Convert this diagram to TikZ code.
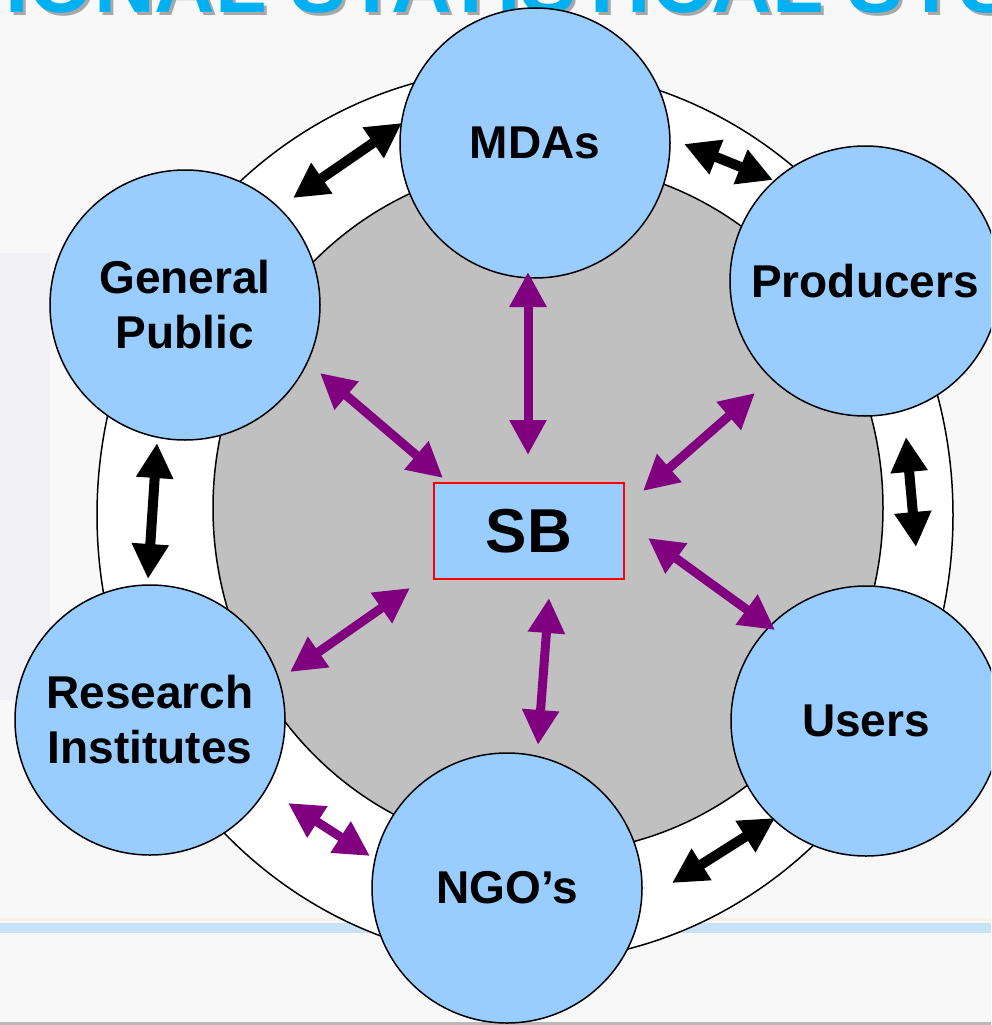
\documentclass[tikz,border=0pt]{standalone}
\usepackage{fontspec}
\setmainfont{Liberation Sans}
\usetikzlibrary{arrows.meta}
\definecolor{bg}{HTML}{F8F8F8}
\definecolor{nodeblue}{HTML}{99CCFF}
\definecolor{ringgray}{HTML}{C0C0C0}
\definecolor{titleblue}{HTML}{00B0F0}
\definecolor{titleshade}{HTML}{A8A8A8}
\definecolor{arrpurple}{HTML}{800080}
\definecolor{bandblue}{HTML}{C8E2F8}
\definecolor{bandpeach}{HTML}{FBF0E8}
\definecolor{wmark}{HTML}{F0F0F5}
\begin{document}
\begin{tikzpicture}[x=1pt,y=-1pt,
  actor/.style={circle, draw=black, line width=1.5pt, fill=nodeblue, minimum size=270pt,
    inner sep=0pt, align=center, font=\bfseries\fontsize{46}{55}\selectfont},
  dblarrow/.style={line width=10pt, {Triangle[length=35pt,width=35pt]}-{Triangle[length=35pt,width=35pt]}},
  blkarrow/.style={dblarrow, draw=black},
  prparrow/.style={dblarrow, line width=9pt, draw=arrpurple},
  ring/.style={draw=black, line width=1.5pt},
  titlefont/.style={font=\bfseries\fontsize{84}{90}\selectfont, inner sep=0pt, anchor=base west}
]
\useasboundingbox (0,0) rectangle (991,1025);
\clip (0,0) rectangle (991,1025);
% background
\fill[bg] (0,0) rectangle (991,1025);
\fill[wmark] (0,253) rectangle (50,700);
\fill[bandpeach] (0,918) rectangle (991,921);
\fill[bandblue] (0,923) rectangle (991,933);
\fill[titleshade!80] (0,1022) rectangle (991,1025);
% title (cut off at the top)
\node[titlefont, text=titleshade] (titleshadow) at (-158,16) {NATIONAL STATISTICAL SYSTEM};
\node[titlefont, text=titleblue] (title) at (-161,13) {NATIONAL STATISTICAL SYSTEM};
% rings
\draw[ring, fill=white] (525,515) ellipse [x radius=428, y radius=447];
\draw[ring, fill=ringgray] (548,508) ellipse [x radius=335, y radius=345];
% nodes
\node[actor] (mdas) at (535,143) {MDAs};
\node[actor] (prod) at (865,281) {Producers};
\node[actor] (gp) at (185,305) {General\\Public};
\node[actor] (ri) at (150,720) {Research\\Institutes};
\node[actor] (users) at (866,721) {Users};
\node[actor] (ngo) at (507,888) {NGO’s};
\node[draw=red, line width=1.5pt, fill=nodeblue, minimum width=190pt, minimum height=96pt,
  inner sep=0pt, font=\bfseries\fontsize{62}{62}\selectfont] (sb) at (529,531) {SB};
% arrow end points
\coordinate (gpA) at (293,198);  \coordinate (mdasA) at (402,123);
\coordinate (mdasB) at (684,144); \coordinate (prodA) at (773,180);
\coordinate (prodB) at (906,437); \coordinate (usersA) at (916,547);
\coordinate (usersB) at (775,818); \coordinate (ngoA) at (672,883);
\coordinate (gpB) at (157,443);  \coordinate (riA) at (148,579);
\coordinate (mdasS) at (528,272); \coordinate (sbM) at (528,455);
\coordinate (gpS) at (320,373);  \coordinate (sbG) at (443,478);
\coordinate (prodS) at (755,393); \coordinate (sbP) at (643,491);
\coordinate (sbU) at (648,538);  \coordinate (usersS) at (775,630);
\coordinate (sbN) at (549,598);  \coordinate (ngoS) at (538,745);
\coordinate (sbR) at (410,588);  \coordinate (riS) at (290,672);
\coordinate (riN) at (288,803);  \coordinate (ngoR) at (370,856);
% black arrows in the ring
\draw[blkarrow] (gpA) -- (mdasA);
\draw[blkarrow] (mdasB) -- (prodA);
\draw[blkarrow] (prodB) -- (usersA);
\draw[blkarrow] (usersB) -- (ngoA);
\draw[blkarrow] (gpB) -- (riA);
% purple arrows
\draw[prparrow] (mdasS) -- (sbM);
\draw[prparrow] (gpS) -- (sbG);
\draw[prparrow] (prodS) -- (sbP);
\draw[prparrow] (sbU) -- (usersS);
\draw[prparrow] (sbN) -- (ngoS);
\draw[prparrow] (sbR) -- (riS);
\draw[prparrow] (riN) -- (ngoR);
\end{tikzpicture}
\end{document}
